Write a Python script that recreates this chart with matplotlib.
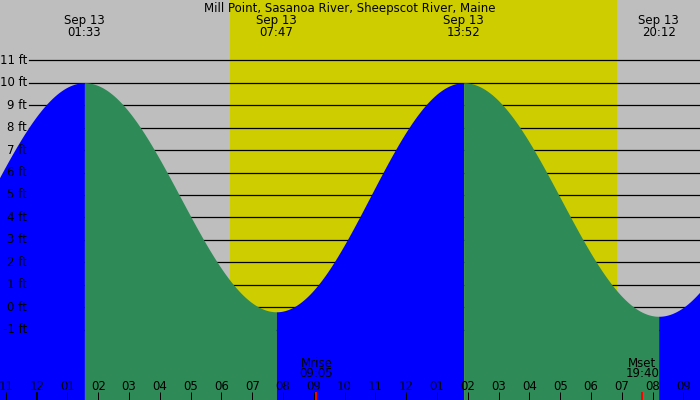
import numpy as np
import matplotlib
matplotlib.use('Agg')
import matplotlib.pyplot as plt

# tide extremes (hours from midnight Sep 13, feet); first and last are off-chart
tide_hours = [-4.68, 1 + 33 / 60, 7 + 47 / 60, 13 + 52 / 60, 20 + 12 / 60, 26.6]
tide_heights = [-0.3, 10.0, -0.2, 10.0, -0.4, 10.0]
tide_labels = ['01:33', '07:47', '13:52', '20:12']
tide_date = 'Sep 13'

sunrise = 6 + 16 / 60
sunset = 18 + 51 / 60
moon_hours = [9 + 5 / 60, 19 + 40 / 60]
moon_names = ['Mrise', 'Mset']
moon_labels = ['09:05', '19:40']

ft_levels = list(range(-1, 12))
hour_ticks = list(range(-1, 22))

title = 'Mill Point, Sasanoa River, Sheepscot River, Maine'

# colours
C_NIGHT = '#bebebe'
C_DAY = '#cdcd00'
C_RISE = '#0000ff'
C_FALL = '#2e8b57'

W, H = 700, 400
px_hour = 30.79
x_mid = 36.7          # pixel of midnight
y_zero = 307.3        # pixel of 0 ft
px_ft = 22.46

fig = plt.figure(figsize=(W / 100, H / 100), dpi=100)
ax = fig.add_axes([0, 0, 1, 1])
ax.set_xlim(-x_mid / px_hour, (W - x_mid) / px_hour)
ax.set_ylim(-(H - y_zero) / px_ft, y_zero / px_ft)
ax.axis('off')
ax.set_facecolor(C_NIGHT)
fig.patch.set_facecolor(C_NIGHT)

# daylight
ax.axvspan(sunrise, sunset, color=C_DAY, lw=0, zorder=0)

# grid lines
for lv in ft_levels:
    ax.axhline(lv, xmin=29 / W, xmax=1, color='black', lw=0.9, zorder=1)

# tide curve, cosine between extremes
bottom = ax.get_ylim()[0]
for i in range(len(tide_hours) - 1):
    t0, t1 = tide_hours[i], tide_hours[i + 1]
    h0, h1 = tide_heights[i], tide_heights[i + 1]
    t = np.linspace(t0, t1, 200)
    h = h0 + (h1 - h0) * (1 - np.cos(np.pi * (t - t0) / (t1 - t0))) / 2
    col = C_RISE if h1 > h0 else C_FALL
    ax.fill_between(t, h, bottom, color=col, lw=0, zorder=2)

fs = 8.5
tx = ax.get_xaxis_transform()
ty = ax.get_yaxis_transform()

fig.text(0.5, 1 - 11.7 / H, title, ha='center', va='baseline', fontsize=fs)

for t, lab in zip(tide_hours[1:-1], tide_labels):
    ax.text(t, 1 - 24.3 / H, tide_date, transform=tx, ha='center', va='baseline', fontsize=fs, zorder=5)
    ax.text(t, 1 - 36 / H, lab, transform=tx, ha='center', va='baseline', fontsize=fs, zorder=5)

for lv in ft_levels:
    ax.text(27 / W, lv, f'{lv} ft', transform=ty, ha='right', va='center', fontsize=fs, zorder=5)

# hour ticks
for hr in hour_ticks:
    lw = 2 if hr % 24 == 0 else 1
    ax.plot([hr, hr], [0, 8 / H], transform=tx, color='black', lw=lw * 0.72, zorder=5,
            solid_capstyle='butt')
    lab = '12' if hr % 12 == 0 else f'{hr % 12:02d}'
    ax.text(hr, 1 - 390 / H, lab, transform=tx, ha='center', va='baseline', fontsize=fs, zorder=5)

for t, name, lab in zip(moon_hours, moon_names, moon_labels):
    ax.plot([t, t], [0, 8 / H], transform=tx, color='red', lw=1.4, zorder=6, solid_capstyle='butt')
    ax.text(t, 1 - 366.7 / H, name, transform=tx, ha='center', va='baseline', fontsize=fs, zorder=5)
    ax.text(t, 1 - 377 / H, lab, transform=tx, ha='center', va='baseline', fontsize=fs, zorder=5)

fig.savefig('out.png', dpi=100, facecolor=C_NIGHT)
